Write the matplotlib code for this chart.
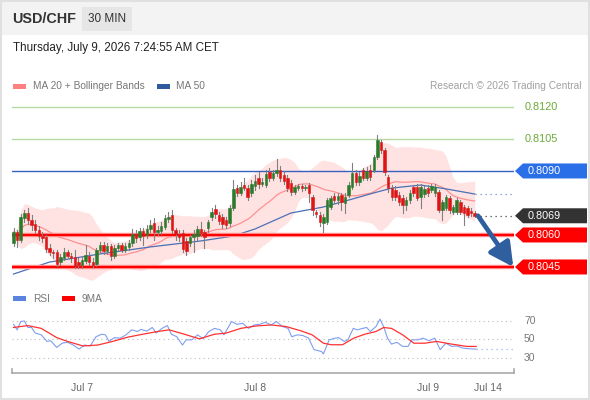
import numpy as np
import pandas as pd
import matplotlib
matplotlib.use("Agg")
import matplotlib.pyplot as plt
from matplotlib.patches import Rectangle, Polygon, FancyArrowPatch
from matplotlib.transforms import IdentityTransform

plt.rcParams['font.family'] = ['Liberation Sans', 'DejaVu Sans']

# ---- data: USD/CHF 30 min candles ----
opens = [0.80563, 0.80614, 0.80577, 0.80680, 0.80703, 0.80670, 0.80652, 0.80623, 0.80595, 0.80591,
         0.80539, 0.80520, 0.80520, 0.80473, 0.80492, 0.80520, 0.80502, 0.80497, 0.80473, 0.80459,
         0.80478, 0.80502, 0.80473, 0.80464, 0.80530, 0.80553, 0.80525, 0.80548, 0.80502, 0.80539,
         0.80553, 0.80530, 0.80544, 0.80563, 0.80605, 0.80591, 0.80619, 0.80600, 0.80628, 0.80656,
         0.80614, 0.80619, 0.80638, 0.80675, 0.80694, 0.80623, 0.80605, 0.80609, 0.80572, 0.80563,
         0.80591, 0.80595, 0.80628, 0.80614, 0.80633, 0.80684, 0.80722, 0.80694, 0.80684, 0.80670,
         0.80656, 0.80727, 0.80820, 0.80797, 0.80834, 0.80820, 0.80797, 0.80830, 0.80867, 0.80839,
         0.80834, 0.80895, 0.80867, 0.80891, 0.80905, 0.80881, 0.80867, 0.80844, 0.80802, 0.80820,
         0.80830, 0.80820, 0.80834, 0.80778, 0.80708, 0.80694, 0.80656, 0.80661, 0.80731, 0.80783,
         0.80764, 0.80787, 0.80750, 0.80787, 0.80825, 0.80891, 0.80848, 0.80905, 0.80867, 0.80905,
         0.80905, 0.80966, 0.81036, 0.80998, 0.80872, 0.80820, 0.80811, 0.80787, 0.80773, 0.80741,
         0.80764, 0.80825, 0.80825, 0.80778, 0.80792, 0.80820, 0.80811, 0.80797, 0.80802, 0.80717,
         0.80727, 0.80773, 0.80708, 0.80708, 0.80755, 0.80731, 0.80727, 0.80713, 0.80703]
closes = [0.80614, 0.80577, 0.80684, 0.80703, 0.80670, 0.80647, 0.80623, 0.80595, 0.80586, 0.80534,
          0.80520, 0.80516, 0.80464, 0.80497, 0.80520, 0.80502, 0.80492, 0.80455, 0.80459, 0.80483,
          0.80506, 0.80473, 0.80459, 0.80530, 0.80553, 0.80525, 0.80548, 0.80502, 0.80539, 0.80553,
          0.80530, 0.80548, 0.80563, 0.80605, 0.80586, 0.80619, 0.80595, 0.80628, 0.80647, 0.80614,
          0.80623, 0.80642, 0.80680, 0.80684, 0.80623, 0.80605, 0.80591, 0.80534, 0.80525, 0.80591,
          0.80605, 0.80628, 0.80609, 0.80591, 0.80661, 0.80708, 0.80698, 0.80666, 0.80652, 0.80647,
          0.80727, 0.80816, 0.80797, 0.80825, 0.80820, 0.80778, 0.80839, 0.80853, 0.80839, 0.80848,
          0.80886, 0.80867, 0.80891, 0.80905, 0.80867, 0.80853, 0.80820, 0.80802, 0.80825, 0.80830,
          0.80820, 0.80825, 0.80797, 0.80717, 0.80698, 0.80661, 0.80684, 0.80764, 0.80773, 0.80764,
          0.80783, 0.80755, 0.80778, 0.80834, 0.80891, 0.80848, 0.80877, 0.80867, 0.80900, 0.80872,
          0.80966, 0.81045, 0.80998, 0.80895, 0.80820, 0.80778, 0.80778, 0.80755, 0.80741, 0.80764,
          0.80797, 0.80797, 0.80773, 0.80825, 0.80816, 0.80797, 0.80830, 0.80825, 0.80717, 0.80755,
          0.80778, 0.80717, 0.80731, 0.80764, 0.80708, 0.80703, 0.80694, 0.80703, 0.80690]
highs = [0.80633, 0.80623, 0.80698, 0.80717, 0.80727, 0.80694, 0.80670, 0.80642, 0.80614, 0.80600,
         0.80558, 0.80530, 0.80530, 0.80511, 0.80539, 0.80530, 0.80516, 0.80530, 0.80492, 0.80502,
         0.80553, 0.80520, 0.80492, 0.80539, 0.80567, 0.80567, 0.80563, 0.80558, 0.80553, 0.80563,
         0.80563, 0.80563, 0.80577, 0.80628, 0.80623, 0.80633, 0.80633, 0.80647, 0.80670, 0.80680,
         0.80642, 0.80661, 0.80694, 0.80708, 0.80717, 0.80633, 0.80623, 0.80623, 0.80586, 0.80600,
         0.80623, 0.80642, 0.80661, 0.80623, 0.80670, 0.80727, 0.80741, 0.80708, 0.80698, 0.80684,
         0.80741, 0.80858, 0.80834, 0.80848, 0.80867, 0.80834, 0.80858, 0.80881, 0.80895, 0.80867,
         0.80905, 0.80914, 0.80905, 0.80956, 0.80923, 0.80900, 0.80881, 0.80858, 0.80834, 0.80839,
         0.80839, 0.80834, 0.80844, 0.80787, 0.80717, 0.80708, 0.80698, 0.80773, 0.80783, 0.80797,
         0.80797, 0.80797, 0.80797, 0.80848, 0.80938, 0.80905, 0.80895, 0.80914, 0.80919, 0.80928,
         0.80975, 0.81069, 0.81045, 0.81008, 0.80881, 0.80834, 0.80830, 0.80802, 0.80787, 0.80778,
         0.80811, 0.80834, 0.80839, 0.80839, 0.80830, 0.80834, 0.80839, 0.80839, 0.80811, 0.80764,
         0.80787, 0.80783, 0.80741, 0.80773, 0.80764, 0.80741, 0.80736, 0.80727, 0.80713]
lows = [0.80548, 0.80544, 0.80567, 0.80661, 0.80652, 0.80623, 0.80609, 0.80577, 0.80567, 0.80520,
        0.80506, 0.80492, 0.80455, 0.80459, 0.80483, 0.80492, 0.80473, 0.80445, 0.80445, 0.80445,
        0.80469, 0.80459, 0.80450, 0.80455, 0.80520, 0.80511, 0.80511, 0.80483, 0.80492, 0.80530,
        0.80520, 0.80520, 0.80530, 0.80548, 0.80567, 0.80577, 0.80553, 0.80586, 0.80614, 0.80577,
        0.80600, 0.80605, 0.80628, 0.80661, 0.80609, 0.80577, 0.80572, 0.80520, 0.80506, 0.80548,
        0.80520, 0.80577, 0.80595, 0.80539, 0.80614, 0.80670, 0.80680, 0.80652, 0.80633, 0.80633,
        0.80642, 0.80717, 0.80783, 0.80787, 0.80811, 0.80764, 0.80783, 0.80811, 0.80820, 0.80830,
        0.80825, 0.80853, 0.80858, 0.80877, 0.80853, 0.80839, 0.80806, 0.80787, 0.80792, 0.80811,
        0.80806, 0.80811, 0.80755, 0.80694, 0.80684, 0.80642, 0.80614, 0.80652, 0.80722, 0.80750,
        0.80745, 0.80717, 0.80703, 0.80778, 0.80816, 0.80834, 0.80834, 0.80858, 0.80858, 0.80858,
        0.80895, 0.80956, 0.80984, 0.80881, 0.80802, 0.80764, 0.80764, 0.80741, 0.80703, 0.80717,
        0.80750, 0.80783, 0.80764, 0.80727, 0.80778, 0.80783, 0.80802, 0.80783, 0.80708, 0.80670,
        0.80717, 0.80703, 0.80698, 0.80698, 0.80698, 0.80647, 0.80684, 0.80689, 0.80684]

# MA 50 read at a few candle positions
ma50_idx = [0, 10, 24, 38, 52, 61, 67, 77, 86, 95, 100, 105, 113, 120, 128]
ma50_val = [0.80417, 0.80473, 0.80511, 0.80544, 0.80572, 0.80595, 0.80628, 0.80703,
            0.80731, 0.80773, 0.80797, 0.80820, 0.80834, 0.80816, 0.80792]

# RSI and its 9 period MA, read at candle positions
rsi_idx = [0, 1, 2, 3, 4, 5, 6, 7.7, 9.3, 10.3, 12, 13.5, 15, 16.6, 18.2, 19.7, 21.3, 22.9,
           24.5, 25.5, 26.5, 28, 29.7, 31.2, 32.8, 34.4, 35.4, 37, 38.5, 39.6, 41.2, 42.7,
           43.8, 45.3, 46.9, 47.9, 49.5, 51.1, 52.6, 54.2, 55.8, 57.4, 58.4, 60.5, 62, 63.6,
           65.2, 66.8, 68.3, 69.9, 71.5, 73, 74.6, 76.2, 77.2, 78.8, 80.3, 81.9, 83.4, 85.5,
           86, 87.6, 89.2, 90.2, 91.8, 92.8, 94.3, 95.4, 96.9, 98, 99, 100.6, 101.7, 102.7,
           103.8, 104.9, 106.4, 108, 109.5, 110.5, 112.2, 113.7, 115.3, 116.9, 118.4, 120,
           121.6, 123.1, 124.7, 126.3, 128.4]
rsi_val = [66.4, 60.4, 69.3, 70, 63, 63, 57, 55, 48, 48.6, 41.4, 46, 47, 44, 39.6, 44, 43, 53,
           55.7, 55, 48, 52, 51.4, 55, 60.4, 58.6, 61, 59, 63, 57, 62, 65,
           55.7, 53, 44, 49.6, 49.6, 55, 50.7, 58.6, 62, 60.4, 55, 69.3, 66.4, 67.5,
           62, 65.7, 66.4, 68.6, 65.7, 69.3, 64, 62, 53, 55, 54.3, 51.4, 39, 37,
           34.3, 49.6, 51.4, 52, 47.9, 49.6, 62, 60.4, 62, 63, 58.6, 64, 72, 64,
           51.4, 45, 47, 42.5, 42.5, 49.6, 49.6, 51.4, 48.6, 51.4, 39, 46,
           42.5, 43, 40.7, 40, 39.6]
ma9_idx = [0, 4, 7.7, 12, 15, 19.3, 23.4, 27.5, 31.7, 35.9, 40, 43.2, 47.4, 51.6, 55.8, 58.9,
           63.1, 67.3, 71.5, 75.6, 79.8, 82.9, 86, 88.2, 91.3, 94.4, 97.5, 100.6, 102.7,
           104.9, 108, 111.1, 114.2, 117.4, 121.6, 125.8, 128.4]
ma9_val = [63, 65, 62, 52, 47.9, 43, 44, 47.9, 52.5, 55.7, 58.6, 60.4, 55.7, 50.7, 55.7, 56.8,
           62, 64.6, 65.7, 64, 59.3, 55, 46, 44.3, 44.3, 51.4, 55.7, 58.6, 62.9,
           62, 55, 46, 46, 47.9, 45, 42.5, 42.5]

resist = [0.8120, 0.8105]
pivot = 0.8090
supports = [0.8060, 0.8045]
day_ticks = [19, 67, 115, 131.7]
day_labels = ['Jul 7', 'Jul 8', 'Jul 9', 'Jul 14']

W, H = 590, 400
fig = plt.figure(figsize=(W / 100, H / 100), dpi=100)
fig.patch.set_facecolor('white')

# header strip + frame
fig.patches.append(Rectangle((0, 1 - 35 / H), 1, 35 / H, transform=fig.transFigure,
                             facecolor='#f3f3f3', edgecolor='none', zorder=0))
fig.patches.append(Rectangle((82 / W, 1 - 31 / H), 50 / W, 24 / H, transform=fig.transFigure,
                             facecolor='#e6e6e6', edgecolor='none', zorder=1))
fig.patches.append(Rectangle((1 / W, 1 / H), 588 / W, 398 / H, transform=fig.transFigure,
                             facecolor='none', edgecolor='#e0e0e0', lw=1.5, zorder=1))
fig.text(12 / W, 1 - 19 / H, 'USD/CHF', fontsize=10.4, fontweight='bold', color='#333333', va='center')
fig.text(107 / W, 1 - 19 / H, '30 MIN', fontsize=8.5, color='#333333', va='center', ha='center')
fig.text(13 / W, 1 - 48 / H, 'Thursday, July 9, 2026 7:24:55 AM CET', fontsize=8.4,
         color='#222222', va='center')

# legends
fig.patches.append(Rectangle((13 / W, 1 - 88.5 / H), 13 / W, 5 / H, transform=fig.transFigure,
                             facecolor='#ff8080', edgecolor='none'))
fig.text(33 / W, 1 - 86 / H, 'MA 20 + Bollinger Bands', fontsize=7.3, color='#777777', va='center')
fig.patches.append(Rectangle((157 / W, 1 - 88.5 / H), 13 / W, 5 / H, transform=fig.transFigure,
                             facecolor='#2f5a9e', edgecolor='none'))
fig.text(176 / W, 1 - 86 / H, 'MA 50', fontsize=7.3, color='#777777', va='center')
fig.text(581 / W, 1 - 86 / H, 'Research \u00a9 2026 Trading Central', fontsize=7.3,
         color='#a0a0a0', va='center', ha='right')
fig.patches.append(Rectangle((13 / W, 1 - 301 / H), 13 / W, 5 / H, transform=fig.transFigure,
                             facecolor='#5b84e0', edgecolor='none'))
fig.text(33 / W, 1 - 299 / H, 'RSI', fontsize=7.3, color='#777777', va='center')
fig.patches.append(Rectangle((62 / W, 1 - 301 / H), 13 / W, 5 / H, transform=fig.transFigure,
                             facecolor='#ff0000', edgecolor='none'))
fig.text(82 / W, 1 - 299 / H, '9MA', fontsize=7.3, color='#777777', va='center')

# ---- main price panel ----
ax = fig.add_axes([12 / W, 1 - 280 / H, 502 / W, 185 / H])
ax.set_xlim(-0.42, 138.9)
ax.set_ylim(0.80389, 0.81256)
ax.axis('off')

n = len(closes)
idx = np.arange(n)
cl = pd.Series(closes)
ma20 = cl.rolling(20, min_periods=1).mean()
sd20 = cl.rolling(20, min_periods=1).std(ddof=0)
ax.fill_between(idx, ma20 + 2 * sd20, ma20 - 2 * sd20, color='#ffe3e3', lw=0, zorder=1)
ax.plot(idx, ma20, color='#ff9090', lw=0.9, zorder=2)
ax.plot(ma50_idx, ma50_val, color='#4a70b5', lw=0.9, zorder=2)
ax.plot([ma50_idx[-1], 138.9], [ma50_val[-1]] * 2, color='#6f8fc6', lw=0.9, ls=(0, (1, 3)), zorder=2)

for r in resist:
    ax.axhline(r, color='#b7d8a2', lw=1, zorder=1)
ax.axhline(pivot, color='#3560bf', lw=1, zorder=1)
for s in supports:
    ax.axhline(s, color='#ff9a9a', lw=3.2, zorder=3)
    ax.axhline(s, color='#ff0000', lw=1.6, zorder=3)

for i in range(n):
    o, c = opens[i], closes[i]
    col = '#2c7a2c' if c >= o else '#dd1515'
    ax.plot([i, i], [lows[i], highs[i]], color='#808080', lw=0.8, zorder=4)
    ax.add_patch(Rectangle((i - 0.34, min(o, c)), 0.68, max(abs(c - o), 0.00003),
                           facecolor=col, edgecolor=col, lw=0.4, zorder=5))

ax.plot([n - 1, 138.9], [closes[-1]] * 2, color='#444444', lw=0.9, ls=(0, (1, 3)), zorder=3)
ax.add_patch(FancyArrowPatch((n - 0.1, closes[-1]), (n + 9.7, supports[1]),
                             arrowstyle='-|>,head_length=6.5,head_width=3.4', mutation_scale=2.2,
                             color='#2f5f9f', lw=3.4, shrinkA=0, shrinkB=0, zorder=6))

fig.canvas.draw()


def tag(price, text, color):
    yd = ax.transData.transform((0, price))[1]
    pts = [(515, yd), (523, yd + 7.5), (587, yd + 7.5), (587, yd - 7.5), (523, yd - 7.5)]
    fig.patches.append(Polygon(pts, closed=True, transform=IdentityTransform(),
                               facecolor=color, edgecolor='none', zorder=3))
    fig.text(528 / W, yd / H, text, fontsize=7.8, color='white', va='center', zorder=4)


for r in resist:
    yd = ax.transData.transform((0, r))[1]
    fig.text(525 / W, yd / H, f'{r:.4f}', fontsize=7.8, color='#6aaa35', va='center')
tag(pivot, f'{pivot:.4f}', '#2a6fe8')
tag(closes[-1], f'{closes[-1]:.4f}', '#333333')
for s in supports:
    tag(s, f'{s:.4f}', '#ff0000')

# ---- RSI panel ----
rx = fig.add_axes([12 / W, 1 - 373 / H, 502 / W, 65 / H])
rx.set_xlim(-0.42, 138.9)
rx.set_ylim(13.8, 84)
for s in ['top', 'left', 'right']:
    rx.spines[s].set_visible(False)
rx.spines['bottom'].set_color('#aaaaaa')
rx.spines['bottom'].set_linewidth(1.2)
for lvl in [70, 50, 30]:
    rx.axhline(lvl, color='#bbbbbb', lw=0.8, ls=(0, (1, 3)))
rx.plot(rsi_idx, rsi_val, color='#7f9ef0', lw=0.8)
rx.plot([rsi_idx[-1], 138.9], [rsi_val[-1]] * 2, color='#9db4f0', lw=0.9, ls=(0, (1, 3)))
rx.plot(ma9_idx, ma9_val, color='#ff3030', lw=0.9)
rx.plot([0, 0], [0, 0.06], transform=rx.transAxes, color='#aaaaaa', lw=1.2, clip_on=False)
rx.plot([1, 1], [0, 0.06], transform=rx.transAxes, color='#aaaaaa', lw=1.2, clip_on=False)
rx.set_yticks([])
rx.set_xticks(day_ticks)
rx.set_xticklabels(day_labels, fontsize=7.5, color='#666666')
rx.tick_params(axis='x', length=0, pad=7)
for lvl in [70, 50, 30]:
    rx.text(1.02, lvl, str(lvl), transform=rx.get_yaxis_transform(), fontsize=7.5,
            color='#777777', va='center')

fig.savefig('out.png', dpi=100)
